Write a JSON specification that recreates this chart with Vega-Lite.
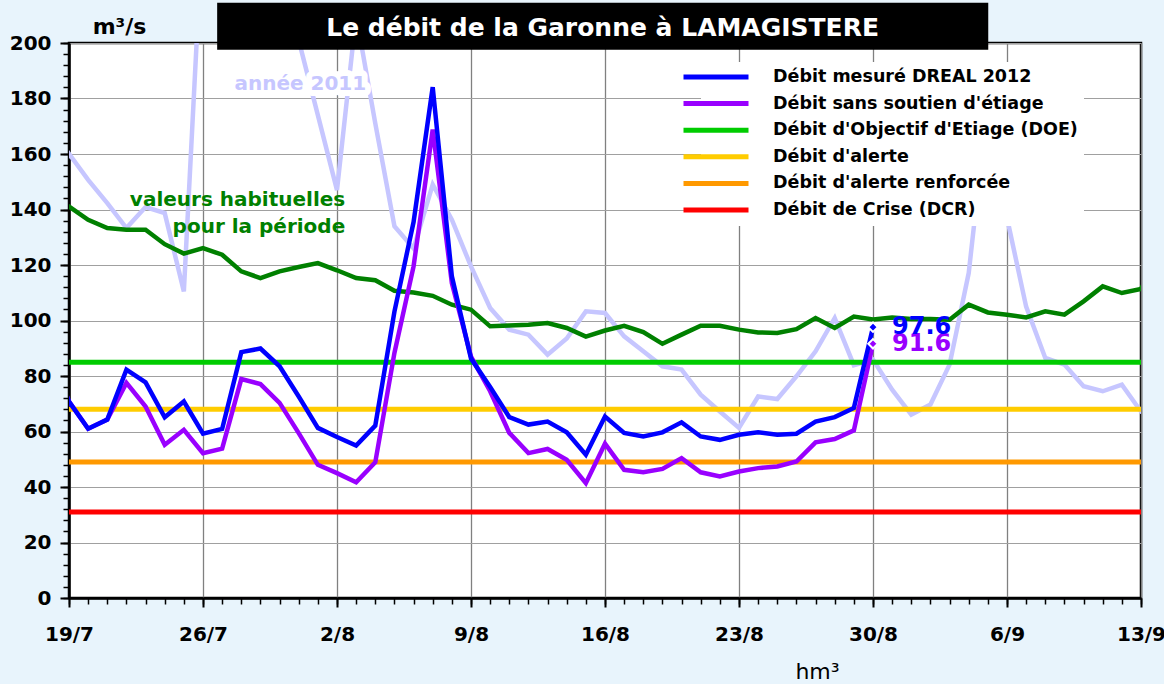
{
 "$schema": "https://vega.github.io/schema/vega-lite/v6.json",
 "width": 1072,
 "height": 555,
 "autosize": {"type": "none"},
 "padding": {"left": 69, "top": 43, "right": 23, "bottom": 86},
 "background": "#e8f4fc",
 "config": {
  "font": "DejaVu Sans",
  "view": {"fill": "white", "stroke": "black", "strokeWidth": 2.5},
  "axis": {"labelFont": "DejaVu Sans", "labelFontWeight": "bold", "labelFontSize": 20, "labelColor": "black", "tickColor": "black", "domainColor": "black", "titleColor": "black", "titleFont": "DejaVu Sans"}
 },
 "data": {
  "format": {"parse": {"date": "date:'%Y-%m-%d'"}},
  "values": [
   {"date": "2012-07-18", "mesure": 87.6, "sans": 87.6, "hab": 143.6, "y2011": 145.4},
   {"date": "2012-07-19", "mesure": 70.8, "sans": 70.8, "hab": 141.1, "y2011": 160.1},
   {"date": "2012-07-20", "mesure": 61.0, "sans": 61.0, "hab": 136.3, "y2011": 150.7},
   {"date": "2012-07-21", "mesure": 64.3, "sans": 64.3, "hab": 133.3, "y2011": 142.3},
   {"date": "2012-07-22", "mesure": 82.3, "sans": 77.5, "hab": 132.7, "y2011": 133.3},
   {"date": "2012-07-23", "mesure": 77.7, "sans": 69.0, "hab": 132.7, "y2011": 140.9},
   {"date": "2012-07-24", "mesure": 65.1, "sans": 55.2, "hab": 127.5, "y2011": 138.7},
   {"date": "2012-07-25", "mesure": 70.8, "sans": 60.6, "hab": 124.1, "y2011": 110.5},
   {"date": "2012-07-26", "mesure": 59.2, "sans": 52.2, "hab": 126.1, "y2011": 245},
   {"date": "2012-07-27", "mesure": 60.9, "sans": 53.8, "hab": 123.7, "y2011": 235},
   {"date": "2012-07-28", "mesure": 88.6, "sans": 78.9, "hab": 117.7, "y2011": 225},
   {"date": "2012-07-29", "mesure": 89.9, "sans": 77.1, "hab": 115.3, "y2011": 230},
   {"date": "2012-07-30", "mesure": 83.5, "sans": 70.3, "hab": 117.7, "y2011": 225},
   {"date": "2012-07-31", "mesure": 72.6, "sans": 59.4, "hab": 119.3, "y2011": 201},
   {"date": "2012-08-01", "mesure": 61.3, "sans": 48.0, "hab": 120.7, "y2011": 174},
   {"date": "2012-08-02", "mesure": 58.0, "sans": 45.0, "hab": 118.1, "y2011": 147},
   {"date": "2012-08-03", "mesure": 54.9, "sans": 41.7, "hab": 115.3, "y2011": 210},
   {"date": "2012-08-04", "mesure": 62.1, "sans": 48.9, "hab": 114.5, "y2011": 171},
   {"date": "2012-08-05", "mesure": 103.2, "sans": 88.3, "hab": 110.7, "y2011": 134},
   {"date": "2012-08-06", "mesure": 135.5, "sans": 119.5, "hab": 110.1, "y2011": 126},
   {"date": "2012-08-07", "mesure": 184.1, "sans": 168.8, "hab": 108.9, "y2011": 149},
   {"date": "2012-08-08", "mesure": 115.9, "sans": 113.5, "hab": 105.7, "y2011": 136.3},
   {"date": "2012-08-09", "mesure": 86.3, "sans": 87.0, "hab": 103.9, "y2011": 119.5},
   {"date": "2012-08-10", "mesure": 76.0, "sans": 74.5, "hab": 97.9, "y2011": 104.5},
   {"date": "2012-08-11", "mesure": 65.2, "sans": 59.5, "hab": 98.2, "y2011": 96.7},
   {"date": "2012-08-12", "mesure": 62.5, "sans": 52.2, "hab": 98.5, "y2011": 94.9},
   {"date": "2012-08-13", "mesure": 63.6, "sans": 53.7, "hab": 99.1, "y2011": 87.7},
   {"date": "2012-08-14", "mesure": 59.7, "sans": 49.8, "hab": 97.3, "y2011": 93.5},
   {"date": "2012-08-15", "mesure": 51.6, "sans": 41.4, "hab": 94.2, "y2011": 103.3},
   {"date": "2012-08-16", "mesure": 65.4, "sans": 55.6, "hab": 96.4, "y2011": 102.7},
   {"date": "2012-08-17", "mesure": 59.5, "sans": 46.2, "hab": 98.1, "y2011": 94.3},
   {"date": "2012-08-18", "mesure": 58.2, "sans": 45.3, "hab": 95.8, "y2011": 88.9},
   {"date": "2012-08-19", "mesure": 59.7, "sans": 46.5, "hab": 91.6, "y2011": 83.5},
   {"date": "2012-08-20", "mesure": 63.3, "sans": 50.4, "hab": 94.9, "y2011": 82.3},
   {"date": "2012-08-21", "mesure": 58.2, "sans": 45.3, "hab": 98.1, "y2011": 73.3},
   {"date": "2012-08-22", "mesure": 57.0, "sans": 43.8, "hab": 98.1, "y2011": 67.2},
   {"date": "2012-08-23", "mesure": 58.8, "sans": 45.6, "hab": 96.7, "y2011": 61.3},
   {"date": "2012-08-24", "mesure": 59.7, "sans": 46.8, "hab": 95.7, "y2011": 72.6},
   {"date": "2012-08-25", "mesure": 58.8, "sans": 47.4, "hab": 95.5, "y2011": 71.7},
   {"date": "2012-08-26", "mesure": 59.2, "sans": 49.2, "hab": 96.9, "y2011": 79.9},
   {"date": "2012-08-27", "mesure": 63.6, "sans": 56.1, "hab": 100.9, "y2011": 88.9},
   {"date": "2012-08-28", "mesure": 65.2, "sans": 57.3, "hab": 97.3, "y2011": 100.9},
   {"date": "2012-08-29", "mesure": 68.5, "sans": 60.4, "hab": 101.4, "y2011": 83.9},
   {"date": "2012-08-30", "mesure": 97.6, "sans": 91.6, "hab": 100.4, "y2011": 85.9},
   {"date": "2012-08-31", "hab": 101.1, "y2011": 75.1},
   {"date": "2012-09-01", "hab": 100.5, "y2011": 66.1},
   {"date": "2012-09-02", "hab": 100.5, "y2011": 69.7},
   {"date": "2012-09-03", "hab": 100.3, "y2011": 84.1},
   {"date": "2012-09-04", "hab": 105.7, "y2011": 117.1},
   {"date": "2012-09-05", "hab": 102.9, "y2011": 179},
   {"date": "2012-09-06", "hab": 102.1, "y2011": 137},
   {"date": "2012-09-07", "hab": 101.1, "y2011": 105},
   {"date": "2012-09-08", "hab": 103.3, "y2011": 86.5},
   {"date": "2012-09-09", "hab": 102.1, "y2011": 84.1},
   {"date": "2012-09-10", "hab": 106.9, "y2011": 76.3},
   {"date": "2012-09-11", "hab": 112.3, "y2011": 74.5},
   {"date": "2012-09-12", "hab": 109.9, "y2011": 76.9},
   {"date": "2012-09-13", "hab": 111.4, "y2011": 67.2},
   {"date": "2012-09-14", "hab": 124, "y2011": 69}
  ]
 },
 "layer": [
  {
   "mark": {"type": "line", "color": "#c6c6ff", "strokeWidth": 4.5, "clip": true},
   "encoding": {
    "x": {"field": "date", "type": "temporal",
     "scale": {"domain": [{"year": 2012, "month": 7, "date": 19}, {"year": 2012, "month": 9, "date": 13}], "nice": false},
     "axis": {"orient": "bottom", "tickCount": {"interval": "day", "step": 1}, "labels": false, "grid": false, "domain": false, "ticks": true, "tickSize": 6, "tickWidth": 1.5, "title": null}},
    "y": {"field": "y2011", "type": "quantitative", "scale": {"domain": [0, 200], "nice": false},
     "axis": {"orient": "left", "values": [0,4,8,12,16,20,24,28,32,36,40,44,48,52,56,60,64,68,72,76,80,84,88,92,96,100,104,108,112,116,120,124,128,132,136,140,144,148,152,156,160,164,168,172,176,180,184,188,192,196,200], "labels": false, "grid": false, "domain": false, "tickSize": 6, "tickWidth": 1.5, "title": null}}
   }
  },
  {
   "data": {"values": [{}]},
   "mark": {"type": "text", "text": "année 2011", "fontWeight": "bold", "fontSize": 20, "fill": "white", "stroke": "white", "strokeWidth": 12, "strokeJoin": "round", "align": "center", "baseline": "alphabetic"},
   "encoding": {
    "x": {"datum": {"year": 2012, "month": 7, "date": 31, "hours": 2}, "type": "temporal", "axis": null},
    "y": {"datum": 183.2, "type": "quantitative", "axis": null}
   }
  },
  {
   "data": {"values": [{}]},
   "mark": {"type": "text", "text": "année 2011", "fontWeight": "bold", "fontSize": 20, "fill": "#c6c6ff", "align": "center", "baseline": "alphabetic"},
   "encoding": {
    "x": {"datum": {"year": 2012, "month": 7, "date": 31, "hours": 2}, "type": "temporal", "axis": null},
    "y": {"datum": 183.2, "type": "quantitative", "axis": null}
   }
  },
  {
   "mark": {"type": "line", "color": "#008000", "strokeWidth": 4.5, "clip": true},
   "encoding": {
    "x": {"field": "date", "type": "temporal",
     "axis": {"orient": "bottom", "values": [{"year": 2012, "month": 7, "date": 19}, {"year": 2012, "month": 7, "date": 26}, {"year": 2012, "month": 8, "date": 2}, {"year": 2012, "month": 8, "date": 9}, {"year": 2012, "month": 8, "date": 16}, {"year": 2012, "month": 8, "date": 23}, {"year": 2012, "month": 8, "date": 30}, {"year": 2012, "month": 9, "date": 6}, {"year": 2012, "month": 9, "date": 13}],
      "format": "%-d/%-m", "labelFlush": false, "labelOverlap": false, "tickSize": 9, "tickWidth": 2, "grid": true, "gridColor": "#808080", "gridWidth": 1.3, "domain": true, "domainWidth": 2.5, "labelPadding": 17,
      "title": "hm³", "titleFontSize": 22, "titleFontWeight": "normal", "titleX": 748, "titleY": 80, "titleBaseline": "alphabetic", "titleAlign": "center", "titleAngle": 0}},
    "y": {"field": "hab", "type": "quantitative",
     "axis": {"orient": "left", "values": [0,20,40,60,80,100,120,140,160,180,200], "tickSize": 9, "tickWidth": 2, "grid": true, "gridColor": "#a0a0a0", "gridWidth": 1, "domain": true, "domainWidth": 2.5, "labelPadding": 9,
      "title": "m³/s", "titleAngle": 0, "titleFontSize": 22, "titleFontWeight": "bold", "titleX": 50, "titleY": -10, "titleAlign": "center", "titleBaseline": "alphabetic"}}
   }
  },
  {
   "data": {"values": [{}]},
   "mark": {"type": "text", "text": ["valeurs habituelles", "pour la période"], "lineHeight": 27, "fontWeight": "bold", "fontSize": 20, "fill": "#008000", "align": "right", "baseline": "alphabetic"},
   "encoding": {
    "x": {"datum": {"year": 2012, "month": 8, "date": 2, "hours": 10, "minutes": 20}, "type": "temporal", "axis": null},
    "y": {"datum": 141.1, "type": "quantitative", "axis": null}
   }
  },
  {
   "data": {"values": [
    {"serie": "Débit d'Objectif d'Etiage (DOE)", "seuil": 85},
    {"serie": "Débit d'alerte", "seuil": 68},
    {"serie": "Débit d'alerte renforcée", "seuil": 49},
    {"serie": "Débit de Crise (DCR)", "seuil": 31}
   ]},
   "mark": {"type": "rule", "strokeWidth": 5},
   "encoding": {
    "y": {"field": "seuil", "type": "quantitative", "axis": null},
    "color": {"field": "serie", "type": "nominal",
     "scale": {"domain": ["Débit mesuré DREAL 2012", "Débit sans soutien d'étiage", "Débit d'Objectif d'Etiage (DOE)", "Débit d'alerte", "Débit d'alerte renforcée", "Débit de Crise (DCR)"], "range": ["#0000ff", "#9900ff", "#00cc00", "#ffcc00", "#ff9900", "#ff0000"]},
     "legend": {"title": null, "orient": "none", "legendX": 632, "legendY": 19, "fillColor": "white", "padding": 6, "symbolType": "M-5,0H5", "symbolSize": 169, "symbolStrokeWidth": 5, "labelFontSize": 17.5, "labelFontWeight": "bold", "labelFont": "DejaVu Sans", "labelColor": "black", "labelOffset": 48, "rowPadding": 6.6, "labelLimit": 500}}
   }
  },
  {
   "mark": {"type": "line", "strokeWidth": 4.5, "clip": true},
   "encoding": {
    "x": {"field": "date", "type": "temporal", "axis": null},
    "y": {"field": "sans", "type": "quantitative", "axis": null},
    "color": {"datum": "Débit sans soutien d'étiage", "type": "nominal",
     "scale": {"domain": ["Débit mesuré DREAL 2012", "Débit sans soutien d'étiage", "Débit d'Objectif d'Etiage (DOE)", "Débit d'alerte", "Débit d'alerte renforcée", "Débit de Crise (DCR)"], "range": ["#0000ff", "#9900ff", "#00cc00", "#ffcc00", "#ff9900", "#ff0000"]},
     "legend": {"title": null, "orient": "none", "legendX": 632, "legendY": 19, "fillColor": "white", "padding": 6, "symbolType": "M-5,0H5", "symbolSize": 169, "symbolStrokeWidth": 5, "labelFontSize": 17.5, "labelFontWeight": "bold", "labelFont": "DejaVu Sans", "labelColor": "black", "labelOffset": 48, "rowPadding": 6.6, "labelLimit": 500}}
   }
  },
  {
   "mark": {"type": "line", "strokeWidth": 4.5, "clip": true},
   "encoding": {
    "x": {"field": "date", "type": "temporal", "axis": null},
    "y": {"field": "mesure", "type": "quantitative", "axis": null},
    "color": {"datum": "Débit mesuré DREAL 2012", "type": "nominal",
     "scale": {"domain": ["Débit mesuré DREAL 2012", "Débit sans soutien d'étiage", "Débit d'Objectif d'Etiage (DOE)", "Débit d'alerte", "Débit d'alerte renforcée", "Débit de Crise (DCR)"], "range": ["#0000ff", "#9900ff", "#00cc00", "#ffcc00", "#ff9900", "#ff0000"]},
     "legend": {"title": null, "orient": "none", "legendX": 632, "legendY": 19, "fillColor": "white", "padding": 6, "symbolType": "M-5,0H5", "symbolSize": 169, "symbolStrokeWidth": 5, "labelFontSize": 17.5, "labelFontWeight": "bold", "labelFont": "DejaVu Sans", "labelColor": "black", "labelOffset": 48, "rowPadding": 6.6, "labelLimit": 500}}
   }
  },
  {
   "transform": [{"filter": "month(datum.date) === 7 && date(datum.date) === 30"}],
   "mark": {"type": "point", "shape": "diamond", "filled": true, "fill": "#9900ff", "stroke": "white", "strokeWidth": 2, "size": 90, "opacity": 1},
   "encoding": {
    "x": {"field": "date", "type": "temporal", "axis": null},
    "y": {"field": "sans", "type": "quantitative", "axis": null}
   }
  },
  {
   "transform": [{"filter": "month(datum.date) === 7 && date(datum.date) === 30"}],
   "mark": {"type": "point", "shape": "diamond", "filled": true, "fill": "#0000ff", "stroke": "white", "strokeWidth": 2, "size": 90, "opacity": 1},
   "encoding": {
    "x": {"field": "date", "type": "temporal", "axis": null},
    "y": {"field": "mesure", "type": "quantitative", "axis": null}
   }
  },
  {
   "transform": [{"filter": "month(datum.date) === 7 && date(datum.date) === 30"}],
   "mark": {"type": "text", "fontWeight": "bold", "fontSize": 24, "fill": "#9900ff", "align": "left", "baseline": "middle", "dx": 19},
   "encoding": {
    "x": {"field": "date", "type": "temporal", "axis": null},
    "y": {"field": "sans", "type": "quantitative", "axis": null},
    "text": {"field": "sans", "type": "quantitative", "format": ".1f"}
   }
  },
  {
   "transform": [{"filter": "month(datum.date) === 7 && date(datum.date) === 30"}],
   "mark": {"type": "text", "fontWeight": "bold", "fontSize": 24, "fill": "#0000ff", "align": "left", "baseline": "middle", "dx": 19},
   "encoding": {
    "x": {"field": "date", "type": "temporal", "axis": null},
    "y": {"field": "mesure", "type": "quantitative", "axis": null},
    "text": {"field": "mesure", "type": "quantitative", "format": ".1f"}
   }
  },
  {
   "data": {"values": [{}]},
   "mark": {"type": "rect", "color": "black"},
   "encoding": {
    "x": {"datum": {"year": 2012, "month": 7, "date": 26, "hours": 17, "minutes": 45}, "type": "temporal", "axis": null},
    "x2": {"datum": {"year": 2012, "month": 9, "date": 5, "minutes": 30}},
    "y": {"datum": 214.5, "type": "quantitative", "axis": null},
    "y2": {"datum": 197.6}
   }
  },
  {
   "data": {"values": [{}]},
   "mark": {"type": "text", "text": "Le débit de la Garonne à LAMAGISTERE", "fontWeight": "bold", "fontSize": 25, "fill": "white", "align": "center", "baseline": "alphabetic"},
   "encoding": {
    "x": {"datum": {"year": 2012, "month": 8, "date": 15, "hours": 21}, "type": "temporal", "axis": null},
    "y": {"datum": 202.6, "type": "quantitative", "axis": null}
   }
  }
 ],
 "resolve": {"axis": {"x": "independent", "y": "independent"}}
}
